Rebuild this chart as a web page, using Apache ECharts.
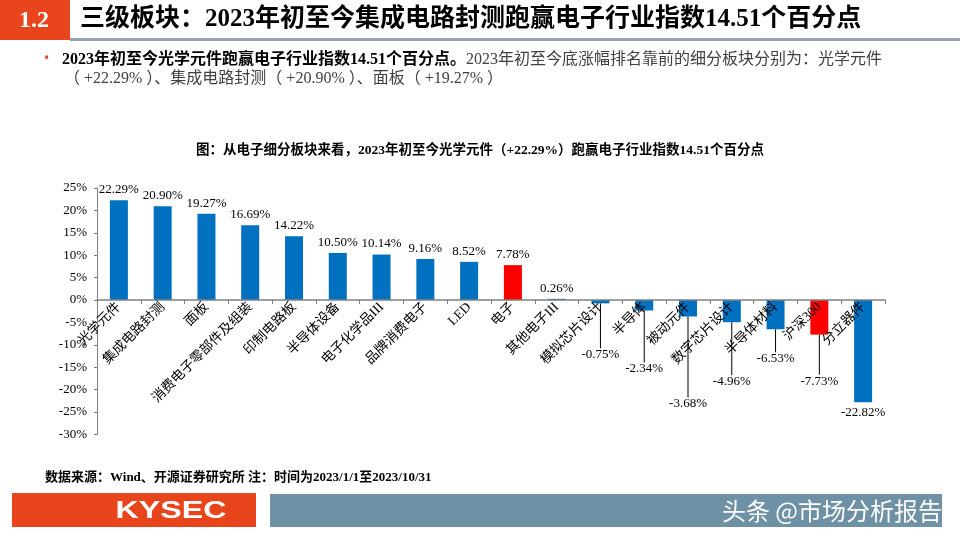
<!DOCTYPE html>
<html><head><meta charset="utf-8">
<script src="https://cdn.jsdelivr.net/npm/echarts@6/dist/echarts.min.js"></script>
<style>html,body{margin:0;padding:0;background:#fff}#c{width:960px;height:540px}</style>
</head><body><div id="c"></div>
<script>
const categories = ['光学元件','集成电路封测','面板','消费电子零部件及组装','印制电路板','半导体设备','电子化学品III','品牌消费电子','LED','电子','其他电子III','模拟芯片设计','半导体','被动元件','数字芯片设计','半导体材料','沪深300','分立器件'];
const values = [22.29,20.90,19.27,16.69,14.22,10.50,10.14,9.16,8.52,7.78,0.26,-0.75,-2.34,-3.68,-4.96,-6.53,-7.73,-22.82];
const highlighted = ['电子','沪深300'];
const yTicks = {min:-30, max:25, interval:5};

// label vertical offsets for negative bars (style only)
const labelDy = {11:41, 12:48, 13:77, 14:49, 15:19, 16:36};

const serif = "'Liberation Serif','Times New Roman','Noto Sans CJK SC',serif";
const cjk = "'Liberation Serif','Noto Sans CJK SC',sans-serif";
const BLUE = '#0070C0', RED = '#FF0000', ORANGE = '#E8451C', SLATE = '#6E91A6';

const gridTop = 188, gridBottom = 105.6;
const plotH = 540 - gridTop - gridBottom;
const zeroOffset = plotH * (0 - yTicks.min) / (yTicks.max - yTicks.min);

const chart = echarts.init(document.getElementById('c'), null, {renderer:'canvas'});
chart.setOption({
  animation:false,
  backgroundColor:'#fff',
  title:{
    text:'图：从电子细分板块来看，2023年初至今光学元件（+22.29%）跑赢电子行业指数14.51个百分点',
    left:'center', top:139,
    textStyle:{fontFamily:cjk, fontSize:13.5, fontWeight:'bold', color:'#000'}
  },
  grid:{left:97, right:75, top:gridTop, bottom:gridBottom, containLabel:false},
  xAxis:{
    type:'category', data:categories, z:5,
    offset: -zeroOffset,
    axisLine:{onZero:false, lineStyle:{color:'#808080', width:1.5}},
    axisTick:{show:true, length:4, lineStyle:{color:'#808080'}},
    axisLabel:{interval:0, rotate:45, fontFamily:cjk, fontSize:13.5, color:'#000', margin:5}
  },
  yAxis:{
    type:'value', min:yTicks.min, max:yTicks.max, interval:yTicks.interval,
    axisLine:{show:true, lineStyle:{color:'#808080', width:1}},
    axisTick:{show:true, length:3, lineStyle:{color:'#808080'}},
    splitLine:{show:false},
    axisLabel:{formatter:v=>v+'%', fontFamily:serif, fontSize:13, color:'#000', margin:10}
  },
  series:[{
    type:'bar', barWidth:18, z:1,
    data: values.map((v,i)=>({
      value:v,
      itemStyle:{color: highlighted.includes(categories[i]) ? RED : BLUE},
      label:{position: v<0 ? 'bottom' : 'top'},
      labelLine:{show: labelDy[i] !== undefined}
    })),
    label:{show:true, formatter:p=>p.value.toFixed(2)+'%', fontFamily:serif, fontSize:13, color:'#000', distance:4},
    labelLine:{show:false, lineStyle:{color:'#000', width:1}},
    labelLayout:function(p){
      if (labelDy[p.dataIndex] !== undefined) return {dy: labelDy[p.dataIndex]};
      return {};
    }
  }],
  graphic:[
    {type:'rect', shape:{x:0,y:0,width:70,height:40}, style:{fill:ORANGE}},
    {type:'text', x:34, y:21, style:{text:'1.2', fill:'#fff', font:"bold 24px 'Liberation Serif'", align:'center', verticalAlign:'middle'}},
    {type:'rect', shape:{x:70,y:38,width:890,height:3}, style:{fill:'#98A3B1'}},
    {type:'text', x:80, y:20, style:{text:'三级板块：2023年初至今集成电路封测跑赢电子行业指数14.51个百分点', fill:'#000', font:"bold 25px 'Liberation Serif','Noto Sans CJK SC'", verticalAlign:'middle'}},
    {type:'text', x:44, y:59, style:{text:'•', fill:ORANGE, font:"14px 'Noto Sans'", verticalAlign:'middle'}},
    {type:'text', x:62, y:60, style:{
      text:'{b|2023年初至今光学元件跑赢电子行业指数14.51个百分点。}{n|2023年初至今底涨幅排名靠前的细分板块分别为：光学元件}',
      verticalAlign:'middle',
      rich:{b:{font:"bold 16px 'Liberation Serif','Noto Sans CJK SC'", fill:'#000'}, n:{font:"16px 'Liberation Serif','Noto Sans CJK SC'", fill:'#404040'}}
    }},
    {type:'text', x:64, y:79, style:{text:'（ +22.29% ）、集成电路封测（ +20.90% ）、面板（ +19.27% ）', fill:'#404040', font:"16px 'Liberation Serif','Noto Sans CJK SC'", verticalAlign:'middle'}},
    {type:'text', x:45, y:478, style:{text:'数据来源：Wind、开源证券研究所 注：时间为2023/1/1至2023/10/31', fill:'#000', font:"bold 13px 'Liberation Serif','Noto Sans CJK SC'", verticalAlign:'middle'}},
    {type:'rect', shape:{x:12,y:493,width:244,height:34}, style:{fill:ORANGE}},
    {type:'text', x:171, y:512, scaleX:1.4, originX:0, originY:0, style:{text:'KYSEC', fill:'#fff', font:"bold 23px 'Liberation Sans','Arial'", align:'center', verticalAlign:'middle'}},
    {type:'rect', shape:{x:270,y:494,width:672,height:33}, style:{fill:SLATE}},
    {type:'text', x:942, y:511, style:{text:'头条 @市场分析报告', fill:'#fff', font:"24px 'Noto Sans CJK SC'", align:'right', verticalAlign:'middle'}}
  ]
});
</script></body></html>
